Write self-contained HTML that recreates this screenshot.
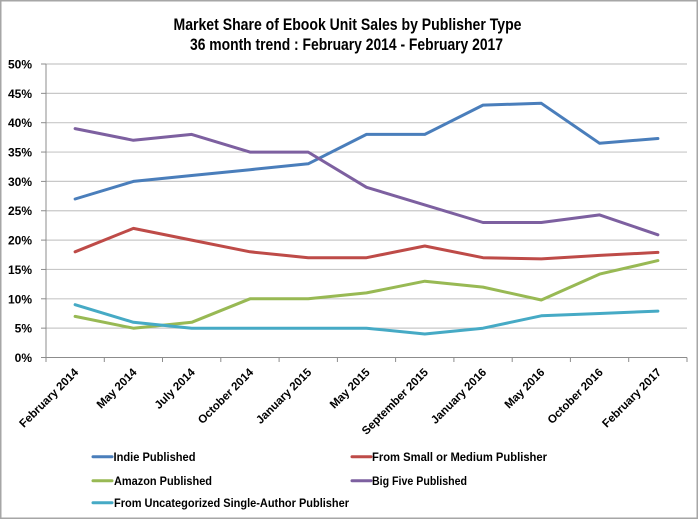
<!DOCTYPE html>
<html>
<head>
<meta charset="utf-8">
<style>
  html,body{margin:0;padding:0;background:#fff;}
  svg{display:block;}
  text{font-family:"Liberation Sans",sans-serif;font-weight:bold;fill:#000;}
</style>
</head>
<body>
<svg width="700" height="520" viewBox="0 0 700 520" xmlns="http://www.w3.org/2000/svg">
  <rect x="0" y="0" width="700" height="520" fill="#fff"/>
  <rect x="0.75" y="0.75" width="696.5" height="517.5" fill="none" stroke="#a6a6a6" stroke-width="1.5"/>

  <!-- Title -->
  <text x="347.5" y="30" font-size="16.5" text-anchor="middle" textLength="348" lengthAdjust="spacingAndGlyphs">Market Share of Ebook Unit Sales by Publisher Type</text>
  <text x="346.5" y="50" font-size="16.5" text-anchor="middle" textLength="313" lengthAdjust="spacingAndGlyphs">36 month trend : February 2014 - February 2017</text>

  <!-- Gridlines -->
  <g stroke="#c8c8c8" stroke-width="1.2">
    <line x1="46" y1="64" x2="687" y2="64"/>
    <line x1="46" y1="93.35" x2="687" y2="93.35"/>
    <line x1="46" y1="122.7" x2="687" y2="122.7"/>
    <line x1="46" y1="152.05" x2="687" y2="152.05"/>
    <line x1="46" y1="181.4" x2="687" y2="181.4"/>
    <line x1="46" y1="210.75" x2="687" y2="210.75"/>
    <line x1="46" y1="240.1" x2="687" y2="240.1"/>
    <line x1="46" y1="269.45" x2="687" y2="269.45"/>
    <line x1="46" y1="298.8" x2="687" y2="298.8"/>
    <line x1="46" y1="328.15" x2="687" y2="328.15"/>
  </g>

  <!-- Axes -->
  <g stroke="#8c8c8c" stroke-width="1">
    <line x1="46" y1="64" x2="46" y2="357.5"/>
    <line x1="46" y1="357.5" x2="687" y2="357.5"/>
    <line x1="41" y1="64" x2="46" y2="64"/>
    <line x1="41" y1="93.35" x2="46" y2="93.35"/>
    <line x1="41" y1="122.7" x2="46" y2="122.7"/>
    <line x1="41" y1="152.05" x2="46" y2="152.05"/>
    <line x1="41" y1="181.4" x2="46" y2="181.4"/>
    <line x1="41" y1="210.75" x2="46" y2="210.75"/>
    <line x1="41" y1="240.1" x2="46" y2="240.1"/>
    <line x1="41" y1="269.45" x2="46" y2="269.45"/>
    <line x1="41" y1="298.8" x2="46" y2="298.8"/>
    <line x1="41" y1="328.15" x2="46" y2="328.15"/>
    <line x1="41" y1="357.5" x2="46" y2="357.5"/>
    <line x1="46" y1="357.5" x2="46" y2="362"/>
    <line x1="104.3" y1="357.5" x2="104.3" y2="362"/>
    <line x1="162.5" y1="357.5" x2="162.5" y2="362"/>
    <line x1="220.8" y1="357.5" x2="220.8" y2="362"/>
    <line x1="279.1" y1="357.5" x2="279.1" y2="362"/>
    <line x1="337.4" y1="357.5" x2="337.4" y2="362"/>
    <line x1="395.6" y1="357.5" x2="395.6" y2="362"/>
    <line x1="453.9" y1="357.5" x2="453.9" y2="362"/>
    <line x1="512.2" y1="357.5" x2="512.2" y2="362"/>
    <line x1="570.4" y1="357.5" x2="570.4" y2="362"/>
    <line x1="628.7" y1="357.5" x2="628.7" y2="362"/>
    <line x1="687" y1="357.5" x2="687" y2="362"/>
  </g>

  <!-- Y labels -->
  <g font-size="12" text-anchor="end">
    <text x="32" y="68.5">50%</text>
    <text x="32" y="97.8">45%</text>
    <text x="32" y="127.2">40%</text>
    <text x="32" y="156.5">35%</text>
    <text x="32" y="185.9">30%</text>
    <text x="32" y="215.2">25%</text>
    <text x="32" y="244.6">20%</text>
    <text x="32" y="273.9">15%</text>
    <text x="32" y="303.3">10%</text>
    <text x="32" y="332.6">5%</text>
    <text x="32" y="362">0%</text>
  </g>

  <!-- X labels -->
  <g font-size="11.5" text-anchor="end">
    <text transform="translate(79,373) rotate(-45)">February 2014</text>
    <text transform="translate(137.4,373) rotate(-45)">May 2014</text>
    <text transform="translate(195.7,373) rotate(-45)">July 2014</text>
    <text transform="translate(254,373) rotate(-45)">October 2014</text>
    <text transform="translate(312.2,373) rotate(-45)">January 2015</text>
    <text transform="translate(370.5,373) rotate(-45)">May 2015</text>
    <text transform="translate(428.8,373) rotate(-45)">September 2015</text>
    <text transform="translate(487,373) rotate(-45)">January 2016</text>
    <text transform="translate(545.3,373) rotate(-45)">May 2016</text>
    <text transform="translate(603.6,373) rotate(-45)">October 2016</text>
    <text transform="translate(661.9,373) rotate(-45)">February 2017</text>
  </g>

  <!-- Series -->
  <g fill="none" stroke-width="3" stroke-linejoin="round" stroke-linecap="round">
    <polyline stroke="#4A7EBB" points="75.1,199 133.4,181.4 191.7,175.5 250,169.7 308.2,163.8 366.5,134.4 424.8,134.4 483,105.1 541.3,103.3 599.6,143.3 657.9,138.5"/>
    <polyline stroke="#BE4B48" points="75.1,251.8 133.4,228.4 191.7,240.1 250,251.8 308.2,257.7 366.5,257.7 424.8,246 483,257.7 541.3,258.9 599.6,255.4 657.9,252.4"/>
    <polyline stroke="#98B954" points="75.1,316.4 133.4,328.2 191.7,322.3 250,298.8 308.2,298.8 366.5,292.9 424.8,281.2 483,287.1 541.3,300 599.6,274.1 657.9,260.6"/>
    <polyline stroke="#7D60A0" points="75.1,128.6 133.4,140.3 191.7,134.4 250,152.1 308.2,152.1 366.5,187.3 424.8,204.9 483,222.5 541.3,222.5 599.6,214.9 657.9,234.8"/>
    <polyline stroke="#46AAC5" points="75.1,304.7 133.4,322.3 191.7,328.2 250,328.2 308.2,328.2 366.5,328.2 424.8,334 483,328.2 541.3,315.8 599.6,313.5 657.9,311.1"/>
  </g>

  <!-- Legend -->
  <g stroke-width="3" stroke-linecap="round">
    <line x1="93" y1="456.7" x2="112" y2="456.7" stroke="#4A7EBB"/>
    <line x1="352" y1="456.7" x2="371" y2="456.7" stroke="#BE4B48"/>
    <line x1="93" y1="480.7" x2="112" y2="480.7" stroke="#98B954"/>
    <line x1="352" y1="480.7" x2="371" y2="480.7" stroke="#7D60A0"/>
    <line x1="93" y1="502.7" x2="112" y2="502.7" stroke="#46AAC5"/>
  </g>
  <g font-size="12">
    <text x="113.5" y="461" textLength="82" lengthAdjust="spacingAndGlyphs">Indie Published</text>
    <text x="372" y="461" textLength="175" lengthAdjust="spacingAndGlyphs">From Small or Medium Publisher</text>
    <text x="114" y="485" textLength="98" lengthAdjust="spacingAndGlyphs">Amazon Published</text>
    <text x="372" y="485" textLength="95" lengthAdjust="spacingAndGlyphs">Big Five Published</text>
    <text x="114" y="507" textLength="235" lengthAdjust="spacingAndGlyphs">From Uncategorized Single-Author Publisher</text>
  </g>
</svg>
</body>
</html>
